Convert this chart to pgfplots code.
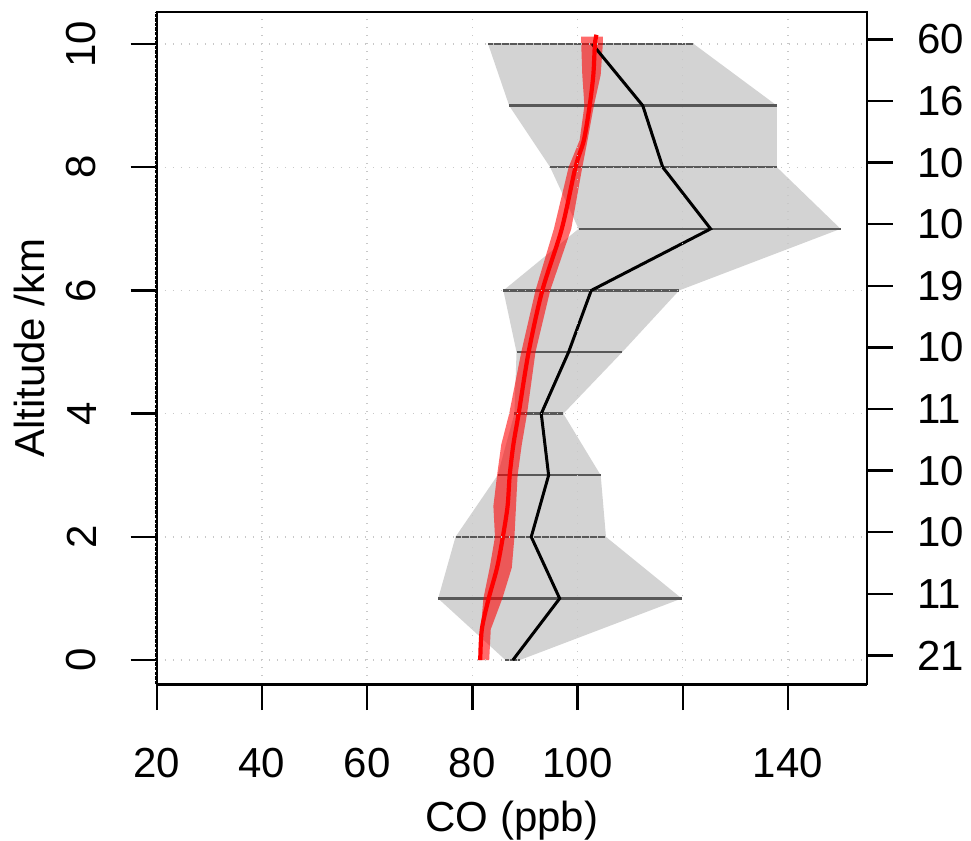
\documentclass[border=0pt]{standalone}
\usepackage{fontspec}
\setmainfont{Liberation Sans}
\usepackage{pgfplots}
\pgfplotsset{compat=1.18}
\definecolor{bandgrey}{RGB}{211,211,211}
\definecolor{seggrey}{RGB}{88,88,88}
\definecolor{gridgrey}{RGB}{200,200,200}

\begin{document}
\begin{tikzpicture}[font=\fontsize{21}{25}\selectfont]
\begin{axis}[
    scale only axis,
    width=355pt, height=336pt,
    xmin=20, xmax=155, ymin=-0.39, ymax=10.52,
    clip=false,
    axis on top,
    axis line style={line width=1pt, black},
    tick pos=left,
    tick align=outside,
    major tick length=13pt,
    tick style={line width=1.2pt, black},
    xtick={20,40,...,140},
    xticklabels={20,40,60,80,100,,140},
    ytick={0,2,...,10},
    grid=major,
    grid style={gridgrey, line width=0.7pt, dash pattern=on 0.7pt off 3.3pt},
    /pgf/number format/assume math mode=true,
    xticklabel style={inner sep=0pt, anchor=north, yshift=-19pt},
    yticklabel style={inner sep=0pt, xshift=-17pt, rotate=90, anchor=south},
    xlabel={CO (ppb)},
    xlabel style={at={(rel axis cs:0.5,0)}, anchor=base, inner sep=0pt, yshift=-73.8pt},
    unbounded coords=jump,
]
% min-max envelope
\addplot[fill=bandgrey, draw=none] coordinates {
    (86.3,0) (73.5,1) (76.8,2) (84.8,3) (88.0,4) (88.4,5) (85.9,6)
    (100.2,7) (94.8,8) (87.0,9) (83.0,10)
    (122.1,10) (137.9,9) (137.9,8) (150.0,7) (119.3,6) (108.5,5)
    (97.3,4) (104.4,3) (105.4,2) (119.8,1) (89.0,0)
} -- cycle;
% range bars at each level
\addplot[seggrey, line width=1.2pt] coordinates {
    (86.3,0) (89.0,0) (nan,nan)
    (73.5,1) (119.8,1) (nan,nan)
    (76.8,2) (105.4,2) (nan,nan)
    (84.8,3) (104.4,3) (nan,nan)
    (88.0,4) (97.3,4) (nan,nan)
    (88.4,5) (108.5,5) (nan,nan)
    (85.9,6) (119.3,6) (nan,nan)
    (100.2,7) (150.0,7) (nan,nan)
    (94.8,8) (137.9,8) (nan,nan)
    (87.0,9) (137.9,9) (nan,nan)
    (83.0,10) (122.1,10)
};
% model spread
\addplot[fill=red, fill opacity=0.58, draw=none] coordinates {
    (81.3,0) (81.6,0.5) (82.1,1) (83.3,1.5) (84.3,2) (84.0,2.5) (84.7,3)
    (85.5,3.5) (87.0,4) (89.3,5) (92.0,6) (95.5,7) (98.3,8) (100.4,8.44)
    (101.3,9) (100.9,9.5) (100.7,10) (100.7,10.12)
    (104.8,10.12) (104.8,10) (104.4,9.5) (103.1,9) (101.9,8.44) (100.9,8)
    (98.8,7) (94.8,6) (92.0,5) (90.4,4) (89.4,3.5) (88.6,3) (88.3,2.5)
    (88.0,2) (87.5,1.5) (85.7,1) (83.5,0.5) (83.2,0)
} -- cycle;
% observed mean
\addplot[black, line width=1.5pt] coordinates {
    (87.7,0) (96.6,1) (91.2,2) (94.5,3) (93.1,4) (98.3,5) (102.6,6)
    (125.3,7) (116.2,8) (112.4,9) (102.8,10)
};
% model mean
\addplot[red, line width=2.1pt, smooth] coordinates {
    (81.5,0) (81.8,0.5) (83.1,1) (84.7,1.5) (85.8,2) (86.7,2.5) (87.1,3)
    (87.8,3.5) (88.8,4) (90.7,5) (93.3,6) (97.0,7) (99.6,8) (101.2,8.44)
    (102.3,9) (103.0,9.5) (103.3,10) (103.6,10.15)
};
\draw[black, line width=1.5pt] (rel axis cs:0,0) -- (rel axis cs:1,0);
\draw[black, line width=1.5pt, dash pattern=on 1.7pt off 0.6pt] (rel axis cs:0,0) -- (rel axis cs:0,1);
\node[rotate=90, anchor=base, inner sep=0pt] at ([xshift=-56pt]rel axis cs:0,0.5) {Altitude /km};
\path (axis cs:-9.8,-2.923) rectangle (axis cs:174.8,10.715);
\end{axis}
\begin{axis}[
    scale only axis,
    width=355pt, height=336pt,
    xmin=20, xmax=155, ymin=-0.39, ymax=10.52,
    hide x axis,
    axis y line*=right,
    y axis line style={line width=1pt, black},
    tick align=outside,
    major tick length=13pt,
    tick style={line width=1.2pt, black},
    ytick={0.075,1.075,2.075,3.075,4.075,5.075,6.075,7.075,8.075,9.075,10.075},
    yticklabels={21,11,10,10,11,10,19,10,10,16,60},
    yticklabel style={inner sep=0pt, anchor=west, xshift=12pt},
    /pgf/number format/assume math mode=true,
]
\end{axis}
\end{tikzpicture}
\end{document}
